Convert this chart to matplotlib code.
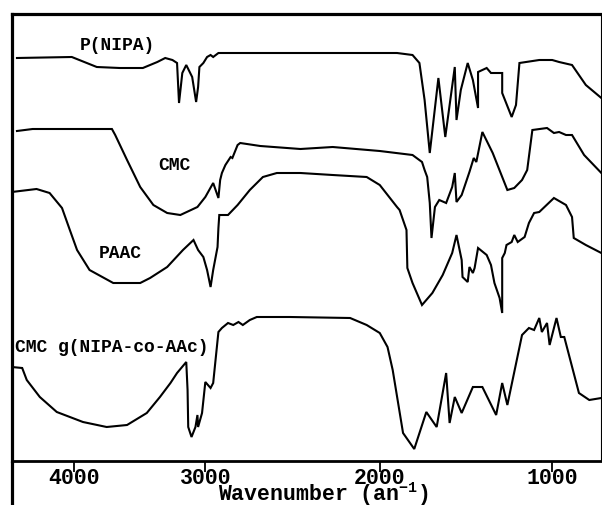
import numpy as np
import matplotlib
matplotlib.use("Agg")
import matplotlib.pyplot as plt

# FTIR spectra, transmittance offsets (arbitrary units) vs wavenumber (cm-1)
pnipa_wn = [4435, 4015, 3825, 3650, 3475, 3365, 3305, 3250, 3215, 3200, 3175, 3145,
            3100, 3070, 3055, 3045, 3015, 2990, 2970, 2955, 2925, 1900, 1810, 1770,
            1740, 1710, 1660, 1620, 1565, 1555, 1530, 1490, 1460, 1430, 1430, 1380,
            1355, 1290, 1290, 1235, 1210, 1190, 1075, 1000, 960, 885, 805, 715]
pnipa_t = [403, 404, 394, 393, 393, 399, 403, 401, 398, 358, 388, 396,
           384, 359, 374, 394, 398, 404, 406, 404, 408, 408, 406, 398,
           361, 308, 383, 324, 394, 341, 371, 398, 381, 353, 389, 393,
           388, 388, 368, 344, 356, 398, 401, 401, 399, 396, 376, 363]

cmc_wn = [4435, 4315, 3710, 3685, 3595, 3495, 3395, 3290, 3190, 3060, 3000, 2955,
          2925, 2915, 2905, 2885, 2855, 2845, 2815, 2800, 2685, 2455, 2270, 2000,
          1810, 1755, 1740, 1725, 1710, 1700, 1680, 1655, 1615, 1580, 1565, 1555,
          1525, 1480, 1455, 1440, 1405, 1345, 1260, 1220, 1175, 1145, 1115, 1030,
          990, 960, 920, 885, 815, 715]
cmc_t = [330, 332, 332, 326, 301, 274, 256, 248, 246, 254, 264, 278,
         263, 281, 288, 296, 304, 303, 316, 318, 315, 312, 314, 310,
         306, 299, 291, 284, 258, 223, 254, 261, 258, 274, 288, 259,
         266, 289, 303, 299, 329, 308, 271, 273, 281, 291, 331, 333,
         328, 329, 326, 326, 306, 288]

paac_wn = [4475, 4285, 4185, 4090, 4030, 3975, 3880, 3700, 3495, 3420, 3290, 3170,
           3090, 3055, 3015, 2990, 2970, 2955, 2930, 2925, 2920, 2870, 2815, 2745,
           2670, 2590, 2455, 2270, 2075, 2000, 1900, 1885, 1845, 1840, 1810, 1755,
           1695, 1635, 1580, 1555, 1525, 1520, 1490, 1480, 1460, 1450, 1430, 1380,
           1355, 1335, 1305, 1290, 1290, 1275, 1265, 1235, 1220, 1200, 1160, 1135,
           1105, 1075, 990, 920, 885, 875, 805, 715]
paac_t = [269, 272, 268, 253, 231, 211, 191, 178, 178, 183, 194, 211,
          221, 211, 204, 191, 174, 191, 214, 233, 246, 246, 256, 271,
          284, 288, 288, 286, 284, 276, 254, 251, 231, 193, 178, 156,
          168, 186, 208, 226, 201, 184, 179, 194, 188, 193, 213, 206,
          196, 178, 163, 148, 203, 208, 216, 219, 226, 219, 224, 238,
          248, 249, 263, 256, 244, 223, 216, 208]

graft_wn = [4475, 4395, 4360, 4260, 4130, 3930, 3750, 3595, 3445, 3345, 3265, 3215,
            3145, 3135, 3130, 3105, 3075, 3060, 3055, 3025, 3000, 2970, 2955, 2925,
            2905, 2870, 2840, 2810, 2785, 2745, 2705, 2515, 2170, 2075, 2000, 1955,
            1925, 1865, 1800, 1730, 1670, 1615, 1595, 1565, 1525, 1460, 1405, 1325,
            1290, 1260, 1175, 1135, 1105, 1075, 1060, 1030, 1015, 975, 950, 930,
            845, 785, 715]
graft_t = [94, 93, 81, 64, 49, 39, 34, 36, 48, 64, 78, 88,
           99, 71, 34, 24, 34, 46, 34, 48, 79, 73, 78, 129,
           133, 138, 136, 139, 136, 141, 144, 144, 143, 136, 128, 114,
           91, 28, 12, 49, 34, 88, 38, 64, 48, 74, 74, 46,
           78, 56, 126, 133, 131, 143, 129, 138, 116, 143, 124, 124,
           68, 61, 63]

tick_values = [4000, 3000, 2000, 1000]
tick_labels = ["4000", "3000", "2000", "1000"]

# the wavenumber axis is piecewise linear (high-wavenumber region compressed);
# scale runs increasing with wavenumber, the axis is then inverted via xlim
knot_wn = np.array([0, 1000, 2000, 3000, 4000, 8000], dtype=float)
knot_pos = -np.array([726, 553, 380, 205, 73, -451], dtype=float)


def forward(w):
    return np.interp(w, knot_wn, knot_pos)


def inverse(p):
    return np.interp(p, knot_pos, knot_wn)


font = ["Liberation Mono", "DejaVu Sans Mono"]
plt.rcParams["mathtext.fontset"] = "custom"
plt.rcParams["mathtext.rm"] = "Liberation Mono:bold"
plt.rcParams["mathtext.it"] = "Liberation Mono:bold"
plt.rcParams["mathtext.bf"] = "Liberation Mono:bold"

fig = plt.figure(figsize=(6.02, 5.05), dpi=100)
ax = fig.add_axes([12 / 602, 44 / 505, 589 / 602, 447 / 505])
ax.set_xscale("function", functions=(forward, inverse))

for wn, t in [(pnipa_wn, pnipa_t), (cmc_wn, cmc_t), (paac_wn, paac_t), (graft_wn, graft_t)]:
    ax.plot(wn, t, color="black", lw=1.5, solid_joinstyle="miter")

ax.set_xlim(4473, 717)
ax.set_ylim(0, 447)

lab = dict(family=font, weight="bold", fontsize=13, color="black")
ax.text(3672, 415, "P(NIPA)", ha="center", va="center", **lab)
ax.text(3237, 295, "CMC", ha="center", va="center", **lab)
ax.text(3649, 208, "PAAC", ha="center", va="center", **lab)
ax.text(4450, 114, "CMC g(NIPA-co-AAc)", ha="left", va="center", **lab)

ax.set_xticks(tick_values)
ax.set_xticklabels(tick_labels, family=font, weight="bold", fontsize=15.5)
ax.xaxis.set_minor_locator(matplotlib.ticker.NullLocator())
ax.tick_params(axis="x", direction="out", length=8, width=1.3, pad=-3)
ax.set_yticks([])

ax.set_xlabel("Wavenumber (an$^{-1}$)", family=font, weight="bold", fontsize=15.5)
ax.xaxis.label.set_va("baseline")
ax.xaxis.set_label_coords(0.528, -0.089)

for side, lw in [("left", 2.3), ("top", 2.3), ("bottom", 2.0), ("right", 0.8)]:
    ax.spines[side].set_linewidth(lw)
    ax.spines[side].set_color("black")

# left frame line runs on past the bottom axis
ax.plot([0, 0], [0, -0.12], transform=ax.transAxes, clip_on=False,
        color="black", lw=2.3, solid_capstyle="butt")

fig.savefig("out.png", dpi=100)
